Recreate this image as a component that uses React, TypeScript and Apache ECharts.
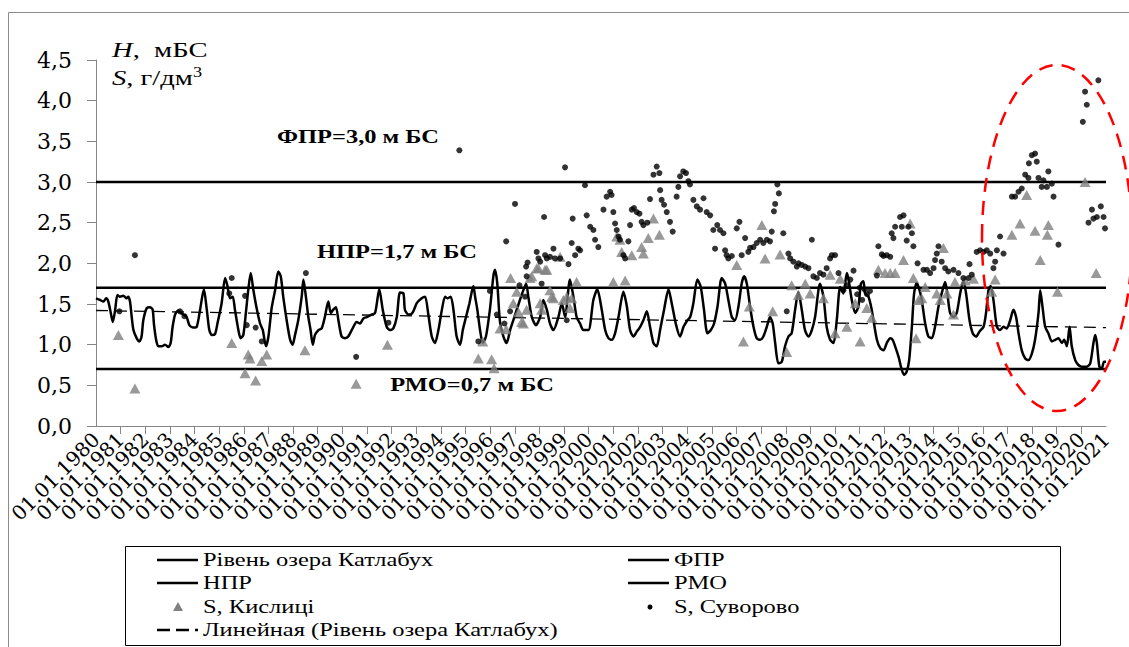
import React, { useEffect, useRef } from "react";
import * as echarts from "echarts";

const X_MIN = 1980;
const X_MAX = 2021;
const Y_MIN = 0;
const Y_MAX = 4.5;
const Y_STEP = 0.5;

const FPR = 3.0;
const NPR = 1.7;
const RMO = 0.7;

const SERIES_NAMES = [
  "Рівень озера Катлабух",
  "ФПР",
  "НПР",
  "РМО",
  "S, Кислиці",
  "S, Суворово",
  "Линейная (Рівень озера Катлабух)",
];

const LEVEL: [number, number][] = [
  [1980.0, 1.57], [1980.16, 1.55], [1980.3, 1.53], [1980.41, 1.57], [1980.5, 1.53], [1980.6, 1.39], [1980.68, 1.28], [1980.77, 1.41], [1980.87, 1.61], [1980.97, 1.59],
  [1981.11, 1.6], [1981.24, 1.57], [1981.31, 1.59], [1981.38, 1.53], [1981.45, 1.34], [1981.52, 1.18], [1981.65, 1.08], [1981.76, 1.04], [1981.85, 1.1], [1981.92, 1.3],
  [1982.06, 1.45], [1982.19, 1.46], [1982.3, 1.43], [1982.35, 1.26], [1982.44, 1.06], [1982.53, 0.98], [1982.67, 0.98], [1982.8, 1.0], [1982.94, 0.97], [1983.03, 1.02],
  [1983.11, 1.22], [1983.21, 1.37], [1983.34, 1.42], [1983.44, 1.39], [1983.55, 1.37], [1983.68, 1.34], [1983.79, 1.24], [1983.95, 1.21], [1984.09, 1.22], [1984.22, 1.42],
  [1984.38, 1.68], [1984.49, 1.45], [1984.6, 1.18], [1984.7, 1.12], [1984.83, 1.13], [1984.93, 1.26], [1985.1, 1.51], [1985.24, 1.82], [1985.33, 1.73], [1985.44, 1.57],
  [1985.55, 1.59], [1985.64, 1.43], [1985.78, 1.18], [1985.87, 1.08], [1985.98, 1.12], [1986.09, 1.41], [1986.18, 1.67], [1986.28, 1.88], [1986.39, 1.67], [1986.52, 1.45],
  [1986.66, 1.26], [1986.77, 1.18], [1986.9, 0.98], [1987.0, 1.1], [1987.13, 1.45], [1987.27, 1.67], [1987.4, 1.9], [1987.5, 1.84], [1987.6, 1.59], [1987.74, 1.3],
  [1987.88, 1.06], [1987.98, 1.0], [1988.08, 1.12], [1988.21, 1.3], [1988.35, 1.59], [1988.42, 1.8], [1988.52, 1.59], [1988.62, 1.34], [1988.71, 1.18], [1988.8, 1.0],
  [1988.89, 1.12], [1989.03, 1.18], [1989.16, 1.2], [1989.29, 1.34], [1989.43, 1.53], [1989.53, 1.39], [1989.63, 1.43], [1989.74, 1.46], [1989.84, 1.3], [1989.97, 1.1],
  [1990.11, 1.08], [1990.24, 1.1], [1990.45, 1.22], [1990.58, 1.28], [1990.72, 1.26], [1990.85, 1.32], [1990.99, 1.34], [1991.19, 1.37], [1991.33, 1.39], [1991.5, 1.68],
  [1991.64, 1.43], [1991.8, 1.22], [1991.94, 1.18], [1992.07, 1.2], [1992.21, 1.34], [1992.34, 1.64], [1992.48, 1.63], [1992.54, 1.43], [1992.68, 1.37], [1992.75, 1.37],
  [1992.88, 1.41], [1993.02, 1.51], [1993.22, 1.57], [1993.36, 1.59], [1993.49, 1.37], [1993.63, 1.1], [1993.76, 1.02], [1993.9, 1.18], [1994.03, 1.41], [1994.17, 1.59],
  [1994.26, 1.57], [1994.4, 1.59], [1994.51, 1.43], [1994.64, 1.1], [1994.78, 1.0], [1994.89, 1.18], [1995.02, 1.34], [1995.16, 1.51], [1995.32, 1.72], [1995.39, 1.59],
  [1995.48, 1.43], [1995.59, 1.18], [1995.7, 1.02], [1995.83, 1.1], [1995.99, 1.43], [1996.13, 1.84], [1996.2, 1.92], [1996.29, 1.75], [1996.4, 1.28], [1996.54, 1.1],
  [1996.67, 1.02], [1996.81, 1.18], [1996.94, 1.3], [1997.08, 1.43], [1997.21, 1.55], [1997.35, 1.67], [1997.46, 1.75], [1997.55, 1.59], [1997.69, 1.34], [1997.86, 1.24],
  [1998.03, 1.34], [1998.16, 1.55], [1998.3, 1.43], [1998.43, 1.26], [1998.57, 1.18], [1998.77, 1.34], [1998.91, 1.51], [1999.04, 1.34], [1999.24, 1.8], [1999.38, 1.59],
  [1999.51, 1.34], [1999.65, 1.26], [1999.78, 1.18], [1999.99, 1.18], [2000.19, 1.55], [2000.35, 1.68], [2000.53, 1.43], [2000.67, 1.18], [2000.8, 1.08], [2000.94, 1.06],
  [2001.07, 1.14], [2001.21, 1.34], [2001.41, 1.65], [2001.55, 1.47], [2001.68, 1.18], [2001.82, 1.1], [2001.95, 1.16], [2002.09, 1.22], [2002.22, 1.3], [2002.36, 1.41],
  [2002.49, 1.22], [2002.63, 1.02], [2002.76, 0.98], [2002.9, 1.18], [2003.06, 1.43], [2003.24, 1.68], [2003.37, 1.51], [2003.55, 1.24], [2003.71, 1.1], [2003.85, 1.22],
  [2004.01, 1.3], [2004.12, 1.34], [2004.25, 1.51], [2004.41, 1.8], [2004.55, 1.71], [2004.68, 1.43], [2004.82, 1.14], [2004.96, 1.18], [2005.09, 1.26], [2005.23, 1.47],
  [2005.4, 1.82], [2005.54, 1.75], [2005.67, 1.55], [2005.81, 1.34], [2005.94, 1.3], [2006.08, 1.47], [2006.21, 1.75], [2006.31, 1.84], [2006.42, 1.75], [2006.55, 1.47],
  [2006.69, 1.22], [2006.82, 1.08], [2006.96, 1.06], [2007.09, 1.1], [2007.23, 1.22], [2007.36, 1.34], [2007.47, 1.26], [2007.57, 1.02], [2007.7, 0.77], [2007.84, 0.79],
  [2007.97, 0.98], [2008.11, 1.1], [2008.24, 1.14], [2008.38, 1.43], [2008.51, 1.65], [2008.65, 1.43], [2008.78, 1.18], [2008.92, 1.1], [2009.06, 1.18], [2009.19, 1.34],
  [2009.39, 1.75], [2009.53, 1.59], [2009.66, 1.22], [2009.8, 1.06], [2009.94, 1.02], [2010.07, 1.3], [2010.21, 1.71], [2010.34, 1.63], [2010.48, 1.88], [2010.55, 1.8],
  [2010.68, 1.55], [2010.82, 1.39], [2010.95, 1.47], [2011.05, 1.75], [2011.15, 1.78], [2011.22, 1.63], [2011.36, 1.59], [2011.49, 1.43], [2011.56, 1.3], [2011.7, 1.06],
  [2011.83, 0.96], [2011.97, 0.93], [2012.1, 1.02], [2012.24, 1.08], [2012.34, 1.06], [2012.44, 0.98], [2012.58, 0.85], [2012.71, 0.69], [2012.81, 0.63], [2012.91, 0.67],
  [2013.01, 0.81], [2013.12, 1.22], [2013.21, 1.63], [2013.32, 1.76], [2013.43, 1.67], [2013.52, 1.55], [2013.66, 1.26], [2013.79, 1.1], [2013.93, 1.08], [2014.06, 1.22],
  [2014.2, 1.47], [2014.33, 1.63], [2014.47, 1.77], [2014.56, 1.63], [2014.67, 1.39], [2014.81, 1.34], [2014.94, 1.39], [2015.08, 1.63], [2015.21, 1.79], [2015.32, 1.63],
  [2015.46, 1.3], [2015.59, 1.14], [2015.73, 1.1], [2015.86, 1.16], [2016.03, 1.22], [2016.13, 1.39], [2016.23, 1.67], [2016.32, 1.72], [2016.43, 1.55], [2016.57, 1.22],
  [2016.7, 1.18], [2016.84, 1.22], [2016.97, 1.2], [2017.11, 1.3], [2017.24, 1.43], [2017.35, 1.34], [2017.45, 1.14], [2017.58, 0.93], [2017.72, 0.83], [2017.85, 0.81],
  [2017.99, 0.89], [2018.12, 1.06], [2018.26, 1.39], [2018.33, 1.67], [2018.42, 1.47], [2018.53, 1.22], [2018.66, 1.14], [2018.8, 1.04], [2018.94, 1.06], [2019.07, 1.08],
  [2019.21, 1.02], [2019.3, 1.06], [2019.41, 0.98], [2019.52, 1.22], [2019.61, 0.98], [2019.75, 0.81], [2019.88, 0.75], [2020.02, 0.73], [2020.22, 0.73], [2020.36, 0.77],
  [2020.49, 1.02], [2020.56, 1.12], [2020.63, 1.02], [2020.73, 0.73], [2020.83, 0.71], [2020.92, 0.79], [2021.0, 0.79],
];

const TREND: [number, number][] = [[1980, 1.42], [2021, 1.21]];

const KYSLYTSI: [number, number][] = [
  [1980.91, 1.12], [1981.58, 0.46], [1985.51, 1.02], [1986.05, 0.65], [1986.18, 0.88], [1986.25, 0.83], [1986.48, 0.56], [1986.73, 0.8], [1986.93, 0.88], [1988.48, 0.93],
  [1990.56, 0.52], [1991.83, 1.0], [1995.52, 0.83], [1995.7, 1.04], [1996.06, 0.82], [1996.16, 0.71], [1996.4, 1.2], [1996.65, 1.19], [1996.83, 1.82], [1996.94, 1.51],
  [1997.08, 1.65], [1997.15, 1.4], [1997.28, 1.28], [1997.35, 1.26], [1997.48, 1.43], [1997.62, 1.82], [1997.69, 1.84], [1997.89, 1.94], [1997.96, 1.94], [1998.03, 1.51],
  [1998.09, 1.43], [1998.23, 1.92], [1998.3, 1.92], [1998.43, 1.67], [1998.5, 1.59], [1998.57, 1.57], [1998.84, 2.08], [1998.97, 1.55], [1999.11, 1.59], [1999.24, 1.45],
  [1999.31, 1.57], [1999.51, 1.77], [2001.0, 1.77], [2001.14, 2.33], [2001.27, 2.29], [2001.34, 2.14], [2001.48, 1.79], [2001.75, 2.1], [2002.15, 2.2], [2002.22, 2.12],
  [2002.42, 2.31], [2002.63, 2.55], [2002.87, 2.35], [2006.01, 1.98], [2006.28, 1.04], [2006.52, 1.47], [2007.03, 2.47], [2007.16, 2.06], [2007.47, 1.41], [2007.77, 2.11],
  [2008.04, 0.91], [2008.24, 1.73], [2008.51, 1.61], [2008.79, 1.75], [2008.99, 1.63], [2009.53, 1.57], [2009.8, 1.86], [2010.0, 1.14], [2010.21, 1.81], [2010.48, 1.22],
  [2010.82, 1.51], [2011.02, 1.04], [2011.29, 1.45], [2011.49, 1.33], [2011.76, 1.92], [2012.03, 1.88], [2012.24, 1.88], [2012.44, 1.88], [2012.78, 2.04], [2013.05, 2.49],
  [2013.18, 1.82], [2013.29, 1.08], [2013.39, 1.55], [2013.52, 1.57], [2013.66, 1.71], [2014.13, 1.63], [2014.27, 1.55], [2014.4, 2.19], [2014.54, 1.63], [2014.81, 1.37],
  [2014.87, 1.77], [2015.28, 1.79], [2015.62, 1.81], [2016.36, 1.65], [2016.5, 1.8], [2017.18, 2.35], [2017.51, 2.49], [2017.78, 2.84], [2018.12, 2.4], [2018.33, 2.04],
  [2018.62, 2.35], [2018.66, 2.47], [2019.03, 1.65], [2020.15, 3.0], [2020.6, 1.88],
];

const SUVOROVO: [number, number][] = [
  [1980.95, 1.41], [1981.58, 2.1], [1983.41, 1.41], [1983.59, 1.35], [1985.41, 1.63], [1985.51, 1.82], [1986.05, 1.6], [1986.12, 1.24], [1986.48, 1.21], [1986.73, 1.04],
  [1988.52, 1.88], [1990.56, 0.85], [1991.87, 1.27], [1994.75, 3.39], [1995.52, 1.04], [1995.99, 1.66], [1996.27, 1.37], [1996.58, 1.26], [1996.65, 2.27], [1996.81, 1.41],
  [1997.01, 2.73], [1997.19, 1.73], [1997.42, 1.59], [1997.46, 1.96], [1997.48, 1.84], [1997.52, 2.01], [1997.89, 2.14], [1997.96, 2.06], [1998.03, 2.02], [1998.09, 1.75],
  [1998.19, 2.57], [1998.23, 2.1], [1998.3, 2.06], [1998.43, 2.08], [1998.57, 2.18], [1998.63, 2.06], [1998.84, 2.06], [1999.04, 3.18], [1999.11, 1.3], [1999.18, 1.99],
  [1999.31, 2.25], [1999.35, 2.55], [1999.45, 2.1], [1999.58, 2.18], [1999.65, 2.16], [1999.85, 2.96], [1999.92, 2.59], [2000.06, 2.45], [2000.19, 2.41], [2000.26, 2.29],
  [2000.39, 2.2], [2000.6, 2.66], [2000.73, 2.82], [2000.87, 2.88], [2000.93, 2.84], [2001.0, 2.63], [2001.07, 2.49], [2001.14, 2.41], [2001.21, 2.33], [2001.27, 2.29],
  [2001.41, 2.1], [2001.48, 2.06], [2001.61, 2.27], [2001.68, 2.47], [2001.75, 2.66], [2001.84, 2.68], [2001.95, 2.63], [2002.06, 2.61], [2002.15, 2.51], [2002.22, 2.47],
  [2002.38, 2.5], [2002.49, 2.79], [2002.63, 3.09], [2002.76, 3.19], [2002.87, 3.11], [2002.9, 2.9], [2002.96, 2.78], [2003.06, 2.72], [2003.17, 2.63], [2003.3, 2.51],
  [2003.41, 2.39], [2003.57, 2.82], [2003.64, 2.94], [2003.71, 3.07], [2003.84, 3.13], [2003.95, 3.11], [2004.05, 3.01], [2004.11, 2.97], [2004.25, 2.78], [2004.39, 2.7],
  [2004.52, 2.66], [2004.66, 2.8], [2004.79, 2.63], [2004.93, 2.59], [2005.06, 2.41], [2005.13, 2.18], [2005.22, 2.47], [2005.33, 2.41], [2005.47, 2.37], [2005.54, 2.16],
  [2005.6, 2.1], [2005.67, 2.06], [2005.81, 2.09], [2006.01, 2.43], [2006.12, 2.51], [2006.21, 2.1], [2006.35, 2.31], [2006.48, 2.14], [2006.55, 2.19], [2006.69, 2.2],
  [2006.82, 2.25], [2006.96, 2.29], [2007.09, 2.25], [2007.23, 2.29], [2007.36, 2.27], [2007.43, 2.39], [2007.52, 2.64], [2007.57, 2.73], [2007.66, 2.97], [2007.72, 2.86],
  [2007.9, 2.37], [2008.04, 1.41], [2008.11, 2.12], [2008.18, 2.06], [2008.31, 2.02], [2008.45, 1.96], [2008.52, 2.0], [2008.65, 1.98], [2008.79, 1.96], [2008.92, 1.94],
  [2009.06, 2.29], [2009.12, 1.84], [2009.26, 1.82], [2009.39, 1.88], [2009.53, 1.86], [2009.66, 1.94], [2009.8, 2.06], [2009.87, 2.1], [2010.0, 2.1], [2010.14, 1.88],
  [2010.34, 1.67], [2010.48, 1.73], [2010.62, 1.8], [2010.75, 1.91], [2010.9, 1.62], [2011.0, 1.7], [2011.1, 1.55], [2011.2, 1.68], [2011.3, 1.62], [2011.42, 1.66],
  [2011.7, 1.85], [2011.76, 2.21], [2011.9, 2.11], [2011.97, 2.09], [2012.1, 2.1], [2012.24, 2.08], [2012.3, 2.37], [2012.37, 2.31], [2012.44, 2.45], [2012.64, 2.57],
  [2012.71, 2.45], [2012.78, 2.59], [2012.91, 2.28], [2012.98, 2.45], [2013.12, 2.37], [2013.18, 2.21], [2013.35, 2.0], [2013.59, 1.92], [2013.73, 1.92], [2013.86, 1.88],
  [2014.0, 1.94], [2014.06, 2.04], [2014.13, 2.12], [2014.2, 2.21], [2014.33, 2.02], [2014.47, 1.94], [2014.6, 1.9], [2014.81, 1.92], [2015.01, 1.88], [2015.21, 1.82],
  [2015.42, 1.82], [2015.46, 1.99], [2015.55, 1.86], [2015.75, 2.14], [2015.89, 2.16], [2016.03, 2.14], [2016.16, 2.16], [2016.3, 2.12], [2016.43, 1.94], [2016.5, 2.02],
  [2016.57, 2.16], [2016.7, 2.33], [2016.84, 2.12], [2017.18, 2.82], [2017.31, 2.82], [2017.45, 2.88], [2017.58, 2.92], [2017.72, 3.09], [2017.85, 3.05], [2017.87, 3.23],
  [2017.99, 3.33], [2018.12, 3.35], [2018.19, 3.25], [2018.26, 3.05], [2018.39, 2.94], [2018.46, 3.02], [2018.6, 2.94], [2018.66, 3.13], [2018.8, 2.98], [2018.87, 2.82],
  [2019.07, 2.23], [2020.06, 3.74], [2020.15, 4.11], [2020.22, 3.95], [2020.29, 2.5], [2020.43, 2.66], [2020.49, 2.55], [2020.63, 2.57], [2020.69, 4.25], [2020.79, 2.7],
  [2020.9, 2.57], [2020.96, 2.43],
];

const SERIF = "Liberation Serif";
const AXIS_FONT = "DejaVu Serif";

export default function App() {
  const ref = useRef<HTMLDivElement>(null);

  useEffect(() => {
    const chart = echarts.init(ref.current as HTMLDivElement, null, { renderer: "svg" });
    const hline = (v: number): [number, number][] => [[X_MIN, v], [X_MAX, v]];
    const solid = { color: "#000", width: 2.6 };

    const legendRows = [560, 583, 607, 630];
    const lx1 = 157, lx2 = 198, ltx = 203;
    const rx1 = 628, rx2 = 669, rtx = 674;
    const legendText = (x: number, y: number, t: string) => ({
      type: "text", x, y, scaleX: 1.36, z: 50,
      style: { text: t, fill: "#000", fontSize: 18, fontFamily: SERIF, fontWeight: "normal", align: "left", textAlign: "left", verticalAlign: "middle", textVerticalAlign: "middle" },
    });
    const legendLine = (x1: number, x2: number, y: number, dash?: number[]) => ({
      type: "line", z: 50,
      shape: { x1, y1: y, x2, y2: y },
      style: { stroke: "#000", lineWidth: 2.4, lineDash: dash },
    });
    const annot = (x: number, y: number, t: string) => ({
      type: "text", x, y, scaleX: 1.36, z: 50,
      style: { text: t, fill: "#000", fontWeight: "bold", fontSize: 18, fontFamily: SERIF, align: "center", textAlign: "center", verticalAlign: "middle", textVerticalAlign: "middle" },
    });
    const xLabel = {
      rotate: 45,
      margin: 10,
      fontFamily: AXIS_FONT,
      fontSize: 20,
      color: "#000",
      formatter: (v: number) => "01.01." + Math.round(v),
    };

    chart.setOption({
      animation: false,
      backgroundColor: "#fff",
      grid: { left: 96, right: 23, top: 60, bottom: 221, containLabel: false },
      xAxis: [
        {
          type: "value",
          position: "bottom",
          min: X_MIN,
          max: X_MAX,
          interval: 1,
          axisLine: { show: true, onZero: false, lineStyle: { color: "#868686", width: 1 } },
          axisTick: { show: true, length: 8, inside: false, lineStyle: { color: "#868686" } },
          axisLabel: { ...xLabel, showMinLabel: false, showMaxLabel: false },
          splitLine: { show: false },
        },
        {
          type: "value",
          position: "bottom",
          offset: 0,
          min: X_MIN,
          max: X_MAX,
          interval: X_MAX - X_MIN,
          axisLine: { show: false, onZero: false },
          axisTick: { show: false },
          axisLabel: { ...xLabel, showMinLabel: true, showMaxLabel: true },
          splitLine: { show: false },
        },
      ],
      yAxis: {
        type: "value",
        min: Y_MIN,
        max: Y_MAX,
        interval: Y_STEP,
        axisLine: { show: true, lineStyle: { color: "#868686", width: 1 } },
        axisTick: { show: true, length: 9, lineStyle: { color: "#868686" } },
        axisLabel: {
          margin: 24,
          fontFamily: AXIS_FONT,
          fontSize: 22,
          color: "#000",
          formatter: (v: number) => v.toFixed(1).replace(".", ","),
        },
        splitLine: { show: false },
      },
      series: [
        { name: SERIES_NAMES[1], type: "line", data: hline(FPR), showSymbol: false, lineStyle: solid, z: 2 },
        { name: SERIES_NAMES[2], type: "line", data: hline(NPR), showSymbol: false, lineStyle: solid, z: 2 },
        { name: SERIES_NAMES[3], type: "line", data: hline(RMO), showSymbol: false, lineStyle: solid, z: 2 },
        { name: SERIES_NAMES[0], type: "line", data: LEVEL, showSymbol: false, smooth: 0.25, lineStyle: { color: "#000", width: 2.5 }, z: 3 },
        { name: SERIES_NAMES[6], type: "line", data: TREND, showSymbol: false, lineStyle: { color: "#000", width: 1.3, type: [12, 7] }, z: 3 },
        { name: SERIES_NAMES[4], type: "scatter", data: KYSLYTSI, symbol: "triangle", symbolSize: [11, 10], itemStyle: { color: "#808080" }, z: 4 },
        { name: SERIES_NAMES[5], type: "scatter", data: SUVOROVO, symbol: "circle", symbolSize: 6, itemStyle: { color: "#000" }, z: 5 },
      ],
      graphic: [
        { type: "rect", z: 0, shape: { x: 8.5, y: 12.5, width: 1130, height: 700 }, style: { fill: "none", stroke: "#8c8c8c", lineWidth: 1 } },
        { type: "rect", z: 40, shape: { x: 125.5, y: 546.5, width: 935, height: 99 }, style: { fill: "#fff", stroke: "#000", lineWidth: 1 } },
        legendLine(lx1, lx2, legendRows[0]),
        legendText(ltx, legendRows[0], SERIES_NAMES[0]),
        legendLine(lx1, lx2, legendRows[1]),
        legendText(ltx, legendRows[1], SERIES_NAMES[2]),
        { type: "polygon", z: 50, shape: { points: [[178, legendRows[2] - 5], [173, legendRows[2] + 4], [183, legendRows[2] + 4]] }, style: { fill: "#808080" } },
        legendText(ltx, legendRows[2], SERIES_NAMES[4]),
        legendLine(lx1, lx2, legendRows[3], [13, 6]),
        legendText(ltx, legendRows[3], SERIES_NAMES[6]),
        legendLine(rx1, rx2, legendRows[0]),
        legendText(rtx, legendRows[0], SERIES_NAMES[1]),
        legendLine(rx1, rx2, legendRows[1]),
        legendText(rtx, legendRows[1], SERIES_NAMES[3]),
        { type: "circle", z: 50, shape: { cx: 650, cy: legendRows[2], r: 2.5 }, style: { fill: "#000" } },
        legendText(rtx, legendRows[2], SERIES_NAMES[5]),
        annot(358, 137, "ФПР=3,0 м БС"),
        annot(397, 252, "НПР=1,7 м БС"),
        annot(472, 385, "РМО=0,7 м БС"),
        {
          type: "text", x: 112, y: 50, scaleX: 1.3, z: 50,
          style: {
            text: "{i|H},  мБС", fill: "#000", fontSize: 22, fontFamily: SERIF, verticalAlign: "middle", textVerticalAlign: "middle",
            rich: { i: { fontStyle: "italic", fontSize: 22, fontFamily: SERIF } },
          },
        },
        {
          type: "text", x: 112, y: 78, scaleX: 1.3, z: 50,
          style: {
            text: "{i|S}, г/дм{s|3}", fill: "#000", fontSize: 22, fontFamily: SERIF, verticalAlign: "middle", textVerticalAlign: "middle",
            rich: { i: { fontStyle: "italic", fontSize: 22, fontFamily: SERIF }, s: { fontSize: 14, fontFamily: SERIF, verticalAlign: "top", padding: [0, 0, 10, 0] } },
          },
        },
        { type: "ellipse", z: 60, shape: { cx: 1057, cy: 238, rx: 75, ry: 173 }, style: { fill: "none", stroke: "#ff0000", lineWidth: 2.5, lineDash: [14, 9] } },
      ],
    });
    return () => chart.dispose();
  }, []);

  return <div ref={ref} style={{ position: "fixed", left: 0, top: 0, width: 1129, height: 647, background: "#fff" }} />;
}
